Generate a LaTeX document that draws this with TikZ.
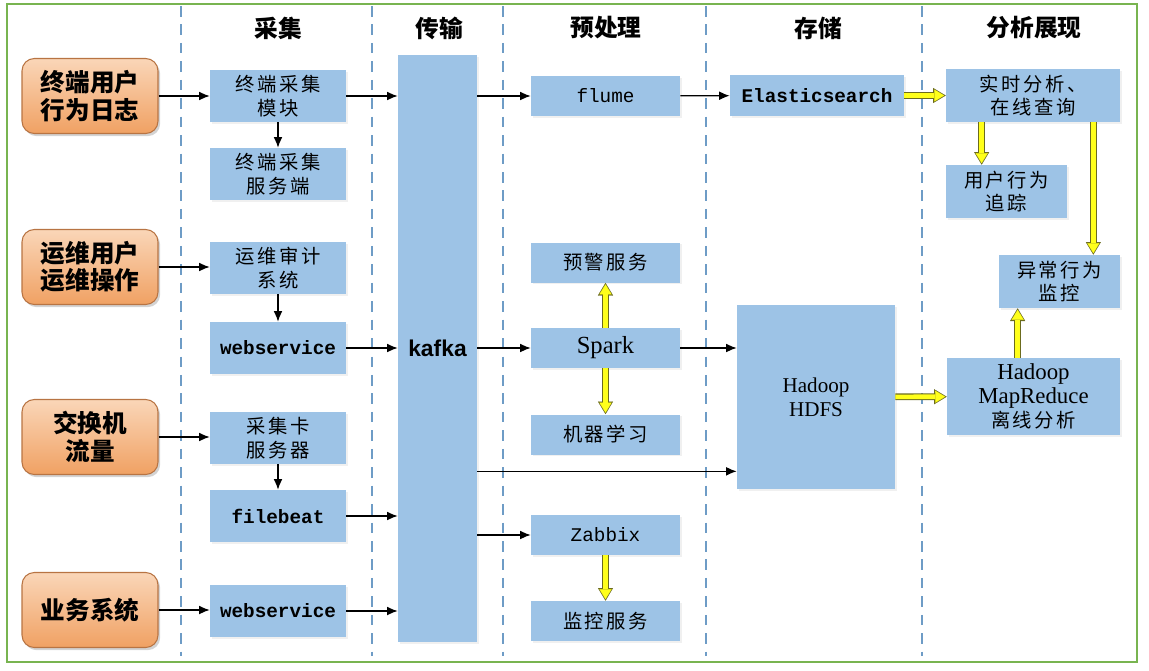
\documentclass[tikz,border=0pt]{standalone}
\usepackage{fontspec}
\setmainfont{Liberation Serif}
\setsansfont{Liberation Sans}
\setmonofont{Liberation Mono}
\newfontfamily\cjk[LetterSpace=13]{Noto Sans CJK SC}
\newfontfamily\cjkhead{Noto Sans CJK SC}
\usetikzlibrary{positioning,arrows.meta,shadows}

\definecolor{boxblue}{HTML}{9DC3E6}
\definecolor{srctop}{HTML}{FAD6B8}
\definecolor{srcbot}{HTML}{F0A163}
\definecolor{srcline}{HTML}{B87443}
\definecolor{framegreen}{HTML}{78B450}
\definecolor{lanecol}{HTML}{6E9CC6}
\definecolor{ybord}{HTML}{6B6B1E}
\definecolor{yfill}{HTML}{FFFF1A}

\tikzset{
  src/.style={rounded corners=7pt, draw=srcline, line width=0.6pt,
    top color=srctop, bottom color=srcbot, minimum width=2.72cm, minimum height=1.5cm,
    align=center, font=\cjkhead\bfseries\fontsize{14}{15.5}\selectfont,
    drop shadow={opacity=0.35, shadow xshift=1.2pt, shadow yshift=-1.5pt}},
  box/.style={fill=boxblue, minimum width=2.72cm, minimum height=1.04cm, align=center,
    inner sep=1pt, font=\cjk\fontsize{11}{13.5}\selectfont,
    drop shadow={opacity=0.12, shadow xshift=1pt, shadow yshift=-1pt}},
  pbox/.style={box, minimum width=2.98cm, minimum height=0.8cm},
  head/.style={font=\cjkhead\bfseries\fontsize{13.5}{15}\selectfont},
  lane/.style={draw=lanecol, line width=0.9pt, dash pattern=on 6pt off 4.5pt},
  arr/.style={-{Latex[length=6pt,width=5pt]}, line width=0.7pt},
  yarr/.style={draw=yfill, line width=2.6pt, shorten >=0.9pt,
    -{Triangle[length=5.6pt,width=6.8pt,line width=0.1pt]},
    preaction={draw=ybord, line width=3.8pt, shorten >=0pt,
      -{Triangle[length=7.2pt,width=8.6pt,line width=0.1pt]}}}
}

\begin{document}
\begin{tikzpicture}[x=0.02cm, y=-0.02cm]
\useasboundingbox (0,0) rectangle (1149,670);
\draw[framegreen, line width=1.4pt] (7,4) rectangle (1137,662);

% lanes
\foreach \x in {181,372,503,706,922}
  \draw[lane] (\x,6) -- (\x,656);

% headings
\node[head] (h1) at (278,28) {采集};
\node[head] (h2) at (439,28) {传输};
\node[head] (h3) at (606,28) {预处理};
\node[head] (h4) at (818,28) {存储};
\node[head] (h5) at (1034,28) {分析展现};

% sources
\node[src] (usr) at (90,96) {终端用户\\行为日志};
\node[src] (ops) at (90,267) {运维用户\\运维操作};
\node[src] (sw) at (90,437) {交换机\\流量};
\node[src] (biz) at (90,610) {业务系统};

% collection
\node[box] (mod) at (278,96) {终端采集\\模块};
\node[box] (srv) at (278,174) {终端采集\\服务端};
\node[box] (audit) at (278,268) {运维审计\\系统};
\node[box] (ws1) at (278,348) {\ttfamily\bfseries webservice};
\node[box] (card) at (278,438) {采集卡\\服务器};
\node[box] (fb) at (278,516) {\ttfamily\bfseries filebeat};
\node[box] (ws2) at (278,611) {\ttfamily\bfseries webservice};

% transport
\node[fill=boxblue, minimum width=1.58cm, minimum height=11.74cm, inner sep=0pt,
  font=\sffamily\bfseries\fontsize{13}{15}\selectfont,
  drop shadow={opacity=0.12, shadow xshift=1pt, shadow yshift=-1pt}] (kafka) at (437.5,348.5) {kafka};

% preprocessing
\node[pbox] (flume) at (605.5,96) {\ttfamily flume};
\node[pbox] (alert) at (605.5,262.5) {预警服务};
\node[pbox] (spark) at (605.5,348) {\rmfamily\fontsize{14}{16}\selectfont Spark};
\node[pbox] (ml) at (605.5,434.5) {机器学习};
\node[pbox] (zbx) at (605.5,535) {\ttfamily Zabbix};
\node[pbox] (mon) at (605.5,621) {监控服务};

% storage
\node[box, minimum width=3.48cm, minimum height=0.82cm] (es) at (817,95.5) {\ttfamily\bfseries Elasticsearch};
\node[box, minimum width=3.16cm, minimum height=3.68cm] (hdfs) at (816,397)
  {\rmfamily\fontsize{12}{14}\selectfont Hadoop\\\rmfamily\fontsize{12}{14}\selectfont HDFS};

% analysis
\node[box, minimum width=3.48cm, minimum height=1.06cm] (rt) at (1033,95.5) {实时分析、\\在线查询};
\node[box, minimum width=2.42cm, minimum height=1.06cm] (track) at (1006.5,191.5) {用户行为\\追踪};
\node[box, minimum width=2.42cm, minimum height=1.06cm] (abn) at (1059.5,281.5) {异常行为\\监控};
\node[box, minimum width=3.46cm, minimum height=1.54cm] (mr) at (1033.5,396.5)
  {\rmfamily\fontsize{13}{13.6}\selectfont Hadoop\\\rmfamily\fontsize{13}{13.6}\selectfont MapReduce\\离线分析};

\coordinate (hlow) at ([yshift=0.36cm]hdfs.south west);

% black connectors
\draw[arr] (usr) -- (mod);
\draw[arr] (mod) -- (srv);
\draw[arr] (mod) -- (mod -| kafka.west);
\draw[arr] (kafka.east |- flume) -- (flume);
\draw[arr] (flume) -- (es);
\draw[arr] (ops) -- (ops -| audit.west);
\draw[arr] (audit) -- (ws1);
\draw[arr] (ws1) -- (ws1 -| kafka.west);
\draw[arr] (kafka.east |- spark) -- (spark);
\draw[arr] (spark) -- (spark -| hdfs.west);
\draw[arr] (sw) -- (sw -| card.west);
\draw[arr] (card) -- (fb);
\draw[arr] (fb) -- (fb -| kafka.west);
\draw[arr] (kafka.east |- hlow) -- (hlow);
\draw[arr] (kafka.east |- zbx) -- (zbx);
\draw[arr] (biz) -- (biz -| ws2.west);
\draw[arr] (ws2) -- (ws2 -| kafka.west);

% yellow connectors
\draw[yarr] (spark) -- (alert);
\draw[yarr] (spark) -- (ml);
\draw[yarr] (zbx) -- (mon);
\draw[yarr] (es) -- (rt);
\draw[yarr] (hdfs) -- (mr);
\draw[yarr] ([xshift=0.72cm]rt.south west) -- ([xshift=0.72cm]rt.south west |- track.north);
\draw[yarr] ([xshift=-0.54cm]rt.south east) -- ([xshift=-0.54cm]rt.south east |- abn.north);
\draw[yarr] ([xshift=1.42cm]mr.north west) -- ([xshift=1.42cm]mr.north west |- abn.south);
\end{tikzpicture}
\end{document}
